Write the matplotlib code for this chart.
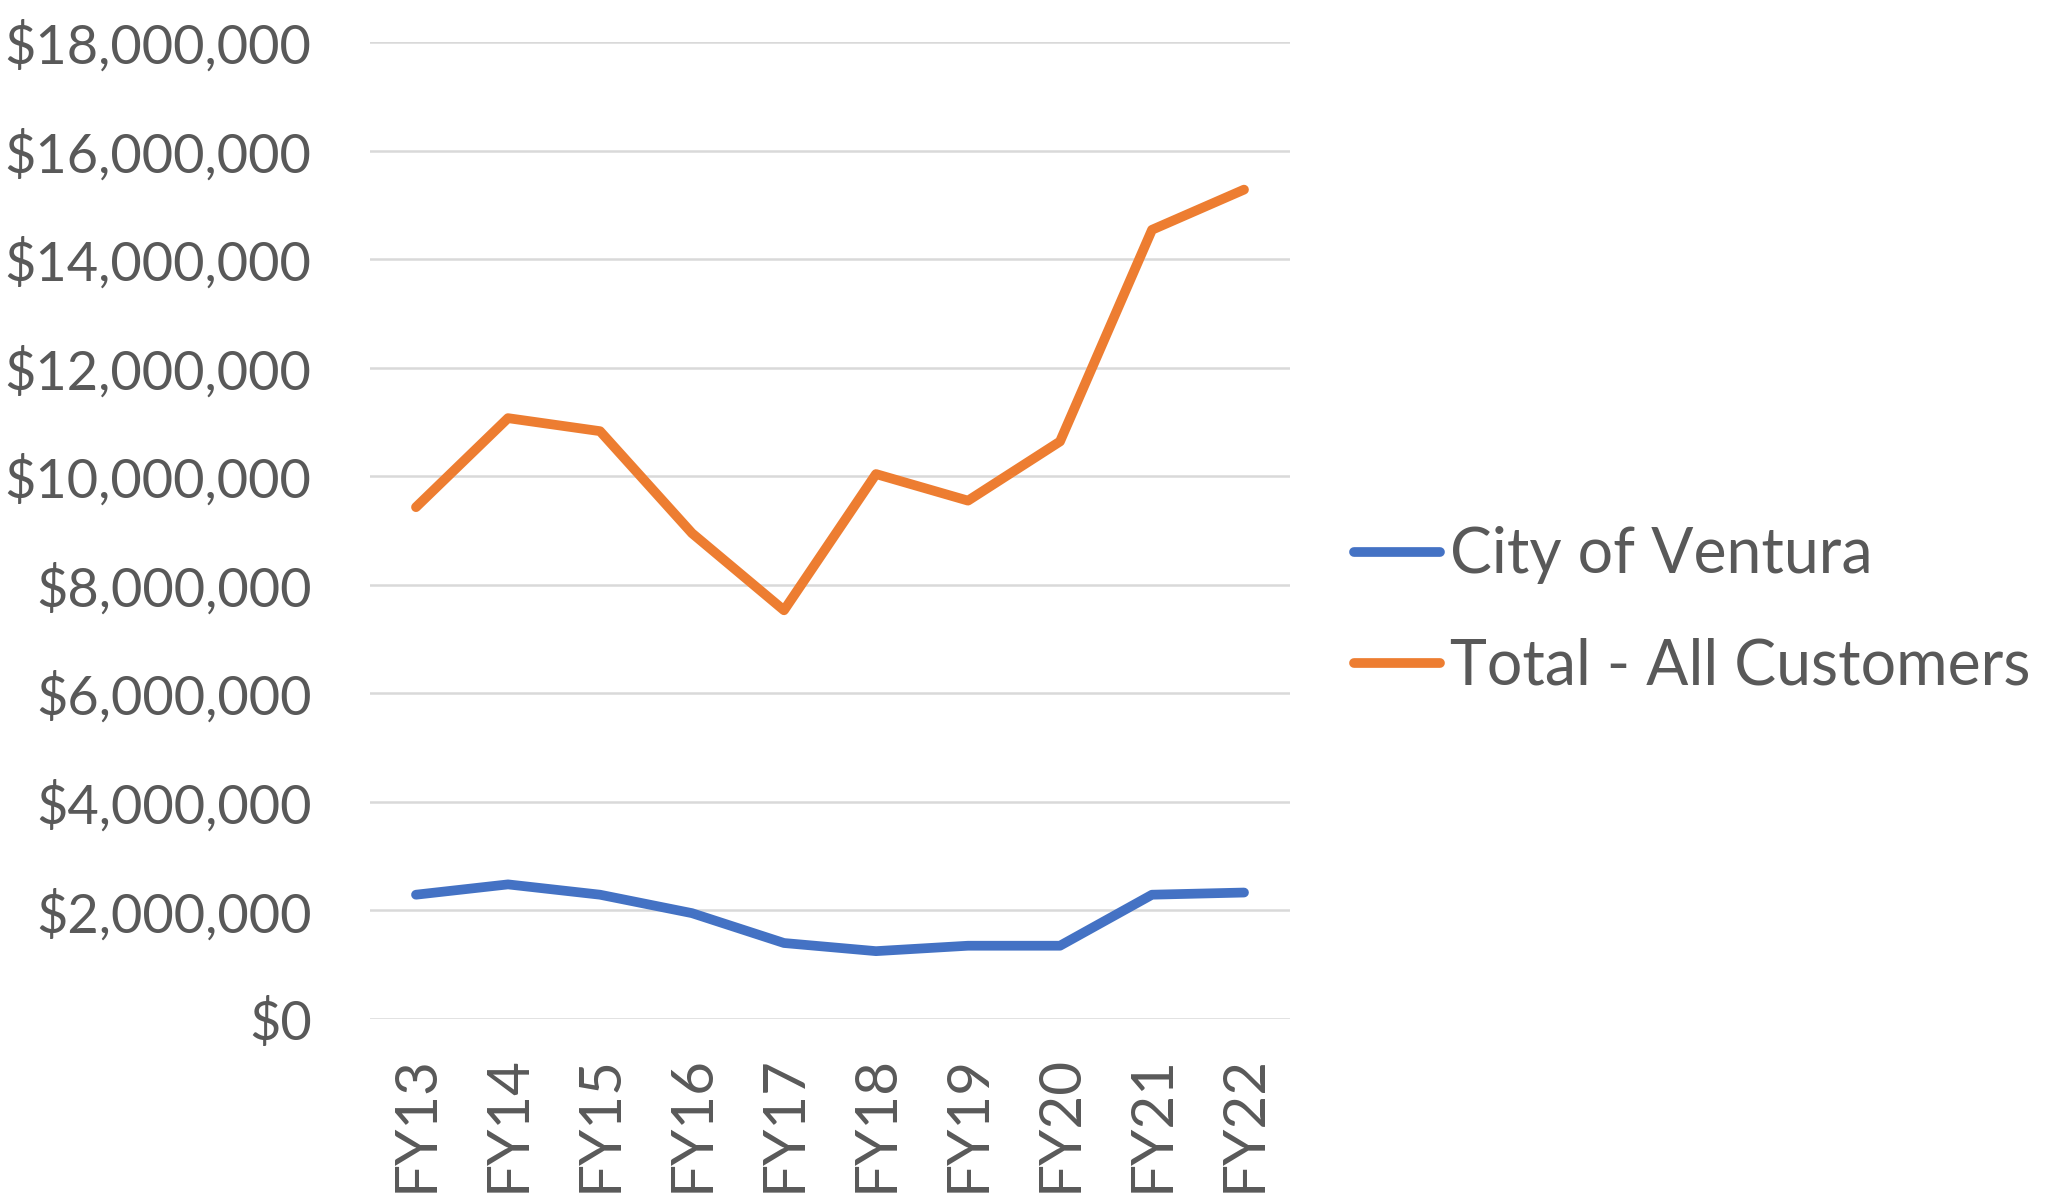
import matplotlib
matplotlib.use('Agg')
import matplotlib.pyplot as plt
from matplotlib.ticker import FuncFormatter

plt.rcParams['font.family'] = ['Lato', 'DejaVu Sans']

# ------------------------------------------------------------------
# data
# ------------------------------------------------------------------
YEARS = ['FY13', 'FY14', 'FY15', 'FY16', 'FY17', 'FY18', 'FY19', 'FY20', 'FY21', 'FY22']
CITY_OF_VENTURA = [2290000, 2480000, 2290000, 1950000, 1400000, 1250000, 1350000, 1350000, 2290000, 2330000]
TOTAL_ALL = [9430000, 11070000, 10830000, 8950000, 7530000, 10040000, 9550000, 10640000, 14540000, 15280000]
Y_TICKS = list(range(0, 18000001, 2000000))

TEXT_COLOR = '#595959'
BLUE = '#4472C4'
ORANGE = '#ED7D31'

fig = plt.figure(figsize=(20.48, 12.04), dpi=100)
ax = fig.add_axes([370 / 2048, 185 / 1204, 920 / 2048, 977 / 1204])

x = list(range(len(YEARS)))
ax.plot(x, CITY_OF_VENTURA, color=BLUE, linewidth=7, label='City of Ventura', solid_capstyle='round')
ax.plot(x, TOTAL_ALL, color=ORANGE, linewidth=7, label='Total - All Customers', solid_capstyle='round')

ax.set_xlim(-0.5, len(YEARS) - 0.5)
ax.set_ylim(0, 18000000)
ax.set_yticks(Y_TICKS)
ax.yaxis.set_major_formatter(FuncFormatter(lambda v, p: '${:,.0f}'.format(v)))
ax.set_xticks(x)
ax.set_xticklabels(YEARS, rotation=90)

ax.grid(axis='y', color='#D9D9D9', linewidth=1.8)
ax.set_axisbelow(True)
for s in ax.spines.values():
    s.set_visible(False)
ax.tick_params(axis='both', length=0, labelcolor=TEXT_COLOR)
ax.tick_params(axis='y', pad=42, labelsize=39)
ax.tick_params(axis='x', pad=26, labelsize=42)

ax.legend(loc='center left', bbox_to_anchor=(1354 / 2048, 1 - 611 / 1204),
          bbox_transform=fig.transFigure, frameon=False, fontsize=45,
          labelcolor=TEXT_COLOR, handlelength=1.38, handletextpad=0.15,
          labelspacing=0.85, borderpad=0, borderaxespad=0)

fig.savefig('out.png', dpi=100, facecolor='white')
